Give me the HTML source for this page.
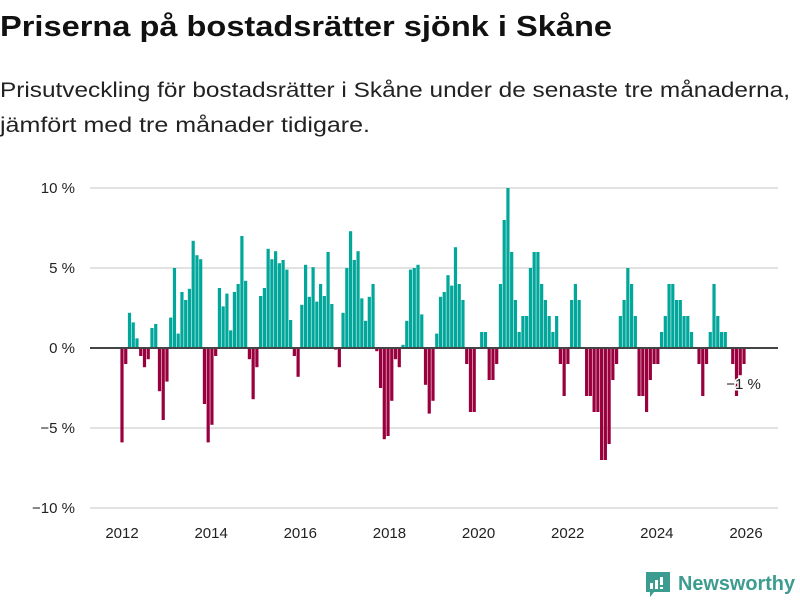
<!DOCTYPE html>
<html><head><meta charset="utf-8"><style>
body{margin:0;background:#fff;width:800px;height:600px;overflow:hidden;font-family:"Liberation Sans",sans-serif}
svg{display:block}
</style></head><body>
<svg id="chart" width="800" height="600">
<text x="0" y="36" font-size="29" font-weight="bold" fill="#111" textLength="612" lengthAdjust="spacingAndGlyphs">Priserna på bostadsrätter sjönk i Skåne</text>
<text x="0" y="97" font-size="21" fill="#222" textLength="790" lengthAdjust="spacingAndGlyphs">Prisutveckling för bostadsrätter i Skåne under de senaste tre månaderna,</text>
<text x="0" y="132" font-size="21" fill="#222" textLength="370" lengthAdjust="spacingAndGlyphs">jämfört med tre månader tidigare.</text>
<g id="grid"></g><g id="bars"></g><g id="axes"></g>
<g>
<path d="M646 572 h24 v20 h-16 l-4 5 v-5 h-4 z" fill="#3b9c8f"/>
<rect x="650" y="583" width="3" height="6" fill="#fff"/><rect x="655" y="580" width="3" height="9" fill="#fff"/><rect x="660" y="577" width="3" height="8" fill="#fff"/><rect x="660" y="587" width="3" height="2" fill="#fff"/>
<text x="678" y="590" font-size="20" font-weight="bold" fill="#3b9c8f" textLength="117" lengthAdjust="spacingAndGlyphs">Newsworthy</text>
</g>
</svg>
<script>
const startYear = 2012;
const values = [-5.9,-1.0,2.2,1.6,0.6,-0.5,-1.2,-0.7,1.25,1.5,-2.7,-4.5,-2.1,1.9,5.0,0.9,3.5,3.0,3.7,6.7,5.8,5.55,-3.5,-5.9,-4.8,-0.5,3.75,2.6,3.4,1.1,3.5,4.0,7.0,4.2,-0.7,-3.2,-1.2,3.25,3.75,6.2,5.55,6.05,5.3,5.5,4.9,1.75,-0.5,-1.8,2.7,5.2,3.2,5.05,2.9,4.0,3.25,6.0,2.75,-0.1,-1.2,2.2,5.0,7.3,5.5,6.05,3.1,1.7,3.2,4.0,-0.2,-2.5,-5.7,-5.5,-3.3,-0.7,-1.2,0.2,1.7,4.9,5.0,5.2,2.1,-2.3,-4.1,-3.3,0.9,3.2,3.5,4.55,3.9,6.3,4.0,3.0,-1.0,-4.0,-4.0,0,1.0,1.0,-2.0,-2.0,-1.0,4.0,8.0,10.0,6.0,3.0,1.0,2.0,2.0,5.0,6.0,6.0,4.0,3.0,2.0,1.0,2.0,-1.0,-3.0,-1.0,3.0,4.0,3.0,0,-3.0,-3.0,-4.0,-4.0,-7.0,-7.0,-6.0,-2.0,-1.0,2.0,3.0,5.0,4.0,2.0,-3.0,-3.0,-4.0,-2.0,-1.0,-1.0,1.0,2.0,4.0,4.0,3.0,3.0,2.0,2.0,1.0,0,-1.0,-3.0,-1.0,1.0,4.0,2.0,1.0,1.0,0,-1.0,-3.0,-1.7,-1.0];
const yTicks = [10,5,0,-5,-10];
const yTickLabels = ["10 %","5 %","0 %","\u22125 %","\u221210 %"];
const xTicks = [2012,2014,2016,2018,2020,2022,2024,2026];
const annotationText = "\u22121 %";

const NS="http://www.w3.org/2000/svg";
const y = v => 348 - v*16;
const xYear = yr => 122 + (yr - startYear)*(624/14);
const xBar = i => 122 + i*((744-122)/(values.length-1));
function mk(tag, attrs, parent){const e=document.createElementNS(NS,tag);for(const k in attrs)e.setAttribute(k,attrs[k]);parent.appendChild(e);return e;}
const grid=document.getElementById('grid'),bars=document.getElementById('bars'),axes=document.getElementById('axes');
yTicks.forEach((t,i)=>{
  if(t!==0){const l=mk('line',{x1:90,x2:778,y1:y(t),y2:y(t),stroke:'#e2e2e2','stroke-width':2},grid);
  
  }
  const tx=mk('text',{x:75,y:y(t)+5,'text-anchor':'end','font-size':15,fill:'#222'},axes);
  tx.textContent=yTickLabels[i];
  
  
});
values.forEach((v,i)=>{
  const cx=xBar(i);
  const r=mk('rect',{x:cx-1.6,width:3.2,y:Math.min(y(v),y(0)),height:Math.abs(y(v)-y(0)),fill:v>=0?'#00a79a':'#99003d'},bars);
  
  
});
const zl=mk('line',{x1:90,x2:778,y1:y(0),y2:y(0),stroke:'#444','stroke-width':2},axes);


xTicks.forEach(t=>{
  const tx=mk('text',{x:xYear(t),y:538,'text-anchor':'middle','font-size':15,fill:'#222'},axes);
  tx.textContent=t;
  
  
});
const lastX=xBar(values.length-2);
const an=mk('text',{x:lastX-14,y:389,'font-size':15,fill:'#222',stroke:'#fff','stroke-width':3,'paint-order':'stroke'},axes);
an.textContent=annotationText;


</script>
</body></html>
